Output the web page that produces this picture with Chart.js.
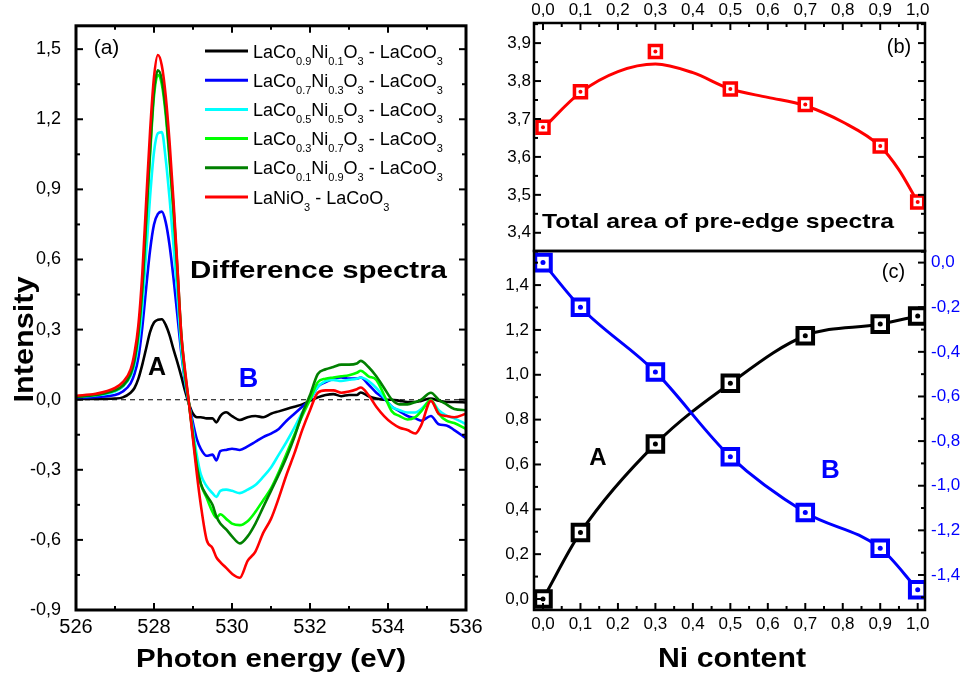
<!DOCTYPE html>
<html><head><meta charset="utf-8">
<script src="https://cdn.jsdelivr.net/npm/chart.js@4.4.1/dist/chart.umd.min.js"></script>
<style>
html,body{margin:0;padding:0;background:#fff;}
#wrap{position:relative;width:963px;height:680px;overflow:hidden;background:#fff;}
canvas{position:absolute;left:0;top:0;}
</style></head><body>
<div id="wrap">
<canvas id="ca" width="963" height="680"></canvas>
<canvas id="cb" width="963" height="680"></canvas>
<canvas id="cc" width="963" height="680"></canvas>
</div>
<script>
// ---------- Panel (a): difference spectra ----------
const energy = [526.0, 526.5, 527.0, 527.2, 527.4, 527.5, 527.6, 527.7, 527.8, 527.9,
  528.0, 528.1, 528.2, 528.3, 528.4, 528.5, 528.6, 528.7, 528.8, 528.9,
  529.0, 529.1, 529.2, 529.35, 529.5, 529.6, 529.7, 529.85, 530.0, 530.2,
  530.4, 530.6, 530.8, 531.0, 531.2, 531.4, 531.6, 531.8, 532.0, 532.2,
  532.4, 532.6, 532.8, 533.0, 533.2, 533.3, 533.5, 533.7, 533.9, 534.1,
  534.3, 534.5, 534.7, 534.85, 535.1, 535.3, 535.5, 535.7, 536.0];
const sNi01 = [0.003, 0.003, 0.005, 0.01, 0.03, 0.05, 0.09, 0.15, 0.22, 0.29,
  0.33, 0.342, 0.344, 0.32, 0.275, 0.215, 0.16, 0.1, 0.035, -0.02,
  -0.06, -0.075, -0.075, -0.08, -0.08, -0.097, -0.07, -0.054, -0.07, -0.087,
  -0.075, -0.07, -0.075, -0.06, -0.05, -0.04, -0.03, -0.02, -0.005, 0.01,
  0.02, 0.024, 0.015, 0.02, 0.02, 0.031, 0.015, 0.005, 0.0, 0.0,
  -0.005, -0.01, -0.01, -0.005, 0.005, -0.005, -0.01, -0.01, -0.012];
const sNi03 = [0.008, 0.012, 0.02, 0.035, 0.07, 0.11, 0.18, 0.31, 0.48, 0.64,
  0.75, 0.795, 0.805, 0.76, 0.66, 0.52, 0.36, 0.2, 0.07, -0.02,
  -0.1, -0.17, -0.21, -0.24, -0.235, -0.26, -0.22, -0.215, -0.21, -0.215,
  -0.2, -0.18, -0.16, -0.145, -0.125, -0.09, -0.06, -0.03, 0.0, 0.055,
  0.075, 0.09, 0.095, 0.09, 0.09, 0.095, 0.065, 0.03, 0.005, -0.03,
  -0.05, -0.07, -0.08, -0.09, -0.07, -0.105, -0.11, -0.13, -0.165];
const sNi05 = [0.012, 0.018, 0.035, 0.055, 0.1, 0.15, 0.24, 0.4, 0.63, 0.87,
  1.06, 1.14, 1.145, 1.03, 0.86, 0.66, 0.45, 0.22, 0.08, -0.02,
  -0.13, -0.24, -0.32, -0.37, -0.40, -0.416, -0.39, -0.385, -0.39, -0.40,
  -0.385, -0.365, -0.33, -0.29, -0.235, -0.18, -0.12, -0.055, 0.0, 0.055,
  0.08, 0.085, 0.08, 0.085, 0.09, 0.095, 0.08, 0.05, 0.01, -0.03,
  -0.045, -0.055, -0.055, -0.04, -0.005, -0.045, -0.068, -0.08, -0.105];
const sNi07 = [0.014, 0.02, 0.04, 0.06, 0.11, 0.17, 0.28, 0.47, 0.76, 1.05,
  1.30, 1.39, 1.35, 1.22, 1.02, 0.80, 0.54, 0.27, 0.1, -0.02,
  -0.15, -0.28, -0.36, -0.42, -0.48, -0.505, -0.49, -0.51, -0.53, -0.537,
  -0.52, -0.48, -0.43, -0.38, -0.31, -0.23, -0.15, -0.07, 0.0, 0.075,
  0.09, 0.095, 0.1, 0.105, 0.115, 0.124, 0.1, 0.085, 0.02, -0.05,
  -0.07, -0.085, -0.075, -0.05, 0.0, -0.06, -0.09, -0.1, -0.125];
const sNi09 = [0.012, 0.02, 0.04, 0.06, 0.11, 0.17, 0.29, 0.48, 0.78, 1.07,
  1.32, 1.41, 1.37, 1.24, 1.04, 0.82, 0.56, 0.28, 0.11, -0.02,
  -0.16, -0.29, -0.36, -0.41, -0.45, -0.50, -0.53, -0.555, -0.585, -0.615,
  -0.585, -0.53, -0.46, -0.39, -0.32, -0.245, -0.16, -0.06, 0.02, 0.11,
  0.13, 0.14, 0.15, 0.15, 0.155, 0.166, 0.14, 0.1, 0.05, 0.0,
  -0.02, -0.02, -0.01, 0.0, 0.03, 0.0, -0.02, -0.04, -0.045];
const sNi10 = [0.017, 0.025, 0.05, 0.075, 0.13, 0.2, 0.32, 0.54, 0.85, 1.15,
  1.38, 1.475, 1.43, 1.3, 1.1, 0.85, 0.57, 0.28, 0.12, -0.02,
  -0.17, -0.32, -0.45, -0.6, -0.635, -0.675, -0.695, -0.72, -0.745, -0.762,
  -0.69, -0.65, -0.57, -0.51, -0.42, -0.32, -0.23, -0.13, -0.045, 0.03,
  0.04, 0.04, 0.03, 0.035, 0.045, 0.052, 0.02, -0.03, -0.07, -0.1,
  -0.12, -0.13, -0.145, -0.11, -0.005, -0.06, -0.07, -0.075, -0.06];
const seriesNames = [
  'LaCo_{0.9}Ni_{0.1}O_{3} - LaCoO_{3}',
  'LaCo_{0.7}Ni_{0.3}O_{3} - LaCoO_{3}',
  'LaCo_{0.5}Ni_{0.5}O_{3} - LaCoO_{3}',
  'LaCo_{0.3}Ni_{0.7}O_{3} - LaCoO_{3}',
  'LaCo_{0.1}Ni_{0.9}O_{3} - LaCoO_{3}',
  'LaNiO_{3} - LaCoO_{3}'];
const seriesColors = ['#000000', '#0000ff', '#00ffff', '#00ff00', '#008000', '#ff0000'];
const zeroLevel = [0, 0];
const energyTicks = [526, 528, 530, 532, 534, 536];
const intensityTicks = [-0.9, -0.6, -0.3, 0.0, 0.3, 0.6, 0.9, 1.2, 1.5];

// ---------- Panels (b) and (c) ----------
const niContent = [0.0, 0.1, 0.3, 0.5, 0.7, 0.9, 1.0];
const totalArea = [3.678, 3.772, 3.878, 3.779, 3.738, 3.629, 3.481];
const areaFitX = [0.0, 0.1, 0.2, 0.3, 0.4, 0.5, 0.6, 0.7, 0.8, 0.9, 0.95, 1.0];
const areaFitY = [3.675, 3.770, 3.825, 3.845, 3.822, 3.779, 3.757, 3.735, 3.692, 3.628, 3.566, 3.481];
const peakA = [0.0, 0.297, 0.691, 0.962, 1.174, 1.226, 1.262];
const peakB = [0.0, -0.20, -0.49, -0.87, -1.12, -1.28, -1.466];
const niTicks = [0.0, 0.1, 0.2, 0.3, 0.4, 0.5, 0.6, 0.7, 0.8, 0.9, 1.0];
const areaTicks = [3.4, 3.5, 3.6, 3.7, 3.8, 3.9];
const peakATicks = [0.0, 0.2, 0.4, 0.6, 0.8, 1.0, 1.2, 1.4];
const peakBTicks = [0.0, -0.2, -0.4, -0.6, -0.8, -1.0, -1.2, -1.4];

// ---------- helpers ----------
const FONT = "'Liberation Sans', Arial, Helvetica, sans-serif";
const BLUE = '#0000ff';
const fmt = v => { let r = Math.round(v * 10) / 10; if (Math.abs(r) < 1e-9) r = 0; return r.toFixed(1).replace('.', ','); };
const pts = (xs, ys) => xs.map((x, i) => ({ x: x, y: ys[i] }));
const minorOf = t => { const st = t[1] - t[0]; const o = []; for (let i = -1; i < t.length; i++) o.push(t[0] + (i + 0.5) * st); return o; };
const setTicks = arr => (s => { s.ticks = arr.map(v => ({ value: v })); });

function framePlugin(id, frameW, sides) {
  return { id: id, afterDraw(chart) {
    const ctx = chart.ctx, a = chart.chartArea;
    ctx.save();
    ctx.strokeStyle = '#000';
    ctx.lineWidth = 2;
    sides.forEach(sd => {
      const sc = chart.scales[sd.scale];
      const one = (v, len) => {
        const p = sc.getPixelForValue(v);
        ctx.beginPath();
        if (sd.side === 'bottom') { if (p < a.left - 1 || p > a.right + 1) return; ctx.moveTo(p, a.bottom); ctx.lineTo(p, a.bottom - len); }
        else if (sd.side === 'top') { if (p < a.left - 1 || p > a.right + 1) return; ctx.moveTo(p, a.top); ctx.lineTo(p, a.top + len); }
        else if (sd.side === 'left') { if (p < a.top - 1 || p > a.bottom + 1) return; ctx.moveTo(a.left, p); ctx.lineTo(a.left + len, p); }
        else { if (p < a.top - 1 || p > a.bottom + 1) return; ctx.moveTo(a.right, p); ctx.lineTo(a.right - len, p); }
        ctx.stroke();
      };
      sd.major.forEach(v => one(v, 7));
      minorOf(sd.major).forEach(v => one(v, 4));
    });
    ctx.lineWidth = frameW;
    ctx.strokeRect(a.left, a.top, a.right - a.left, a.bottom - a.top);
    ctx.restore();
  }};
}

function drawText(ctx, o) {
  ctx.save();
  ctx.font = o.font + ' ' + FONT;
  ctx.fillStyle = o.color || '#000';
  ctx.textAlign = 'center';
  ctx.textBaseline = 'alphabetic';
  ctx.translate(o.x, o.y);
  if (o.rot) ctx.rotate(o.rot);
  if (o.w) { const m = ctx.measureText(o.t).width; ctx.scale(o.w / m, 1); }
  ctx.fillText(o.t, 0, 0);
  ctx.restore();
}

function drawRich(ctx, str, x, y) {
  const parts = str.split(/(_\{[^}]*\})/).filter(s => s.length);
  let cx = x;
  ctx.textAlign = 'left'; ctx.textBaseline = 'alphabetic'; ctx.fillStyle = '#000';
  parts.forEach(p => {
    if (p.startsWith('_{')) { const t = p.slice(2, -1); ctx.font = '11px ' + FONT; ctx.fillText(t, cx, y + 7); cx += ctx.measureText(t).width; }
    else { ctx.font = '18px ' + FONT; ctx.fillText(p, cx, y); cx += ctx.measureText(p).width; }
  });
}

const textPlugin = (id, texts, extra) => ({ id: id, afterDraw(chart) {
  const ctx = chart.ctx; texts.forEach(o => drawText(ctx, o)); if (extra) extra(ctx);
}});

const baseOpts = () => ({ responsive: false, animation: false, devicePixelRatio: 1, events: [],
  plugins: { legend: { display: false }, tooltip: { enabled: false }, title: { display: false } } });
const axisCommon = (size, color, pad) => ({ grid: { display: false, drawTicks: false }, border: { display: false },
  ticks: { autoSkip: false, maxRotation: 0, padding: pad, color: color || '#000', font: { family: FONT, size: size } } });

// ---------- Chart (a) ----------
const specData = [sNi01, sNi03, sNi05, sNi07, sNi09, sNi10];
const dsA = [{ label: 'zero', data: pts([energyTicks[0], energyTicks[energyTicks.length - 1]], zeroLevel),
  borderColor: '#000', borderWidth: 1.1, borderDash: [5, 4], pointRadius: 0, order: 10 }];
specData.forEach((ys, i) => dsA.push({ label: seriesNames[i], data: pts(energy, ys), borderColor: seriesColors[i],
  backgroundColor: seriesColors[i], borderWidth: 2.6, pointRadius: 0, cubicInterpolationMode: 'monotone', order: 7 - i }));

const optA = baseOpts();
optA.layout = { padding: { left: 16, top: 23, right: 497, bottom: 30 } };
optA.scales = {
  x: Object.assign(axisCommon(20, '#000', 5), { type: 'linear', position: 'bottom', min: 526, max: 536,
    afterBuildTicks: setTicks(energyTicks), afterFit: s => { s.height = 40; } }),
  y: Object.assign(axisCommon(18, '#000', 15), { type: 'linear', position: 'left', min: -0.9, max: 1.6,
    afterBuildTicks: setTicks(intensityTicks), afterFit: s => { s.width = 60; } })
};
optA.scales.x.ticks.callback = v => String(v);
optA.scales.y.ticks.callback = v => fmt(v);

new Chart(document.getElementById('ca'), {
  type: 'line', data: { datasets: dsA }, options: optA,
  plugins: [
    framePlugin('frameA', 3, [
      { scale: 'x', side: 'bottom', major: energyTicks }, { scale: 'x', side: 'top', major: energyTicks },
      { scale: 'y', side: 'left', major: intensityTicks }, { scale: 'y', side: 'right', major: intensityTicks }]),
    textPlugin('textA', [
      { t: '(a)', x: 106.5, y: 54, font: '21px' },
      { t: 'Difference spectra', x: 318.5, y: 278, font: 'bold 24px', w: 257 },
      { t: 'A', x: 157, y: 375, font: 'bold 25px' },
      { t: 'B', x: 248.5, y: 387, font: 'bold 27px', color: BLUE },
      { t: 'Photon energy (eV)', x: 271, y: 667, font: 'bold 26px', w: 270 },
      { t: 'Intensity', x: 33, y: 339.5, font: 'bold 28px', w: 126, rot: -Math.PI / 2 }
    ], ctx => {
      ctx.save();
      seriesNames.forEach((nm, i) => {
        const y = 51 + i * 29.2;
        ctx.strokeStyle = seriesColors[i]; ctx.lineWidth = 3;
        ctx.beginPath(); ctx.moveTo(205, y); ctx.lineTo(248, y); ctx.stroke();
        drawRich(ctx, nm, 253, y + 6.5);
      });
      ctx.restore();
    })
  ]
});

// ---------- Chart (b) ----------
const optB = baseOpts();
optB.layout = { padding: { left: 490, top: 0, right: 38, bottom: 429 } };
optB.scales = {
  x: Object.assign(axisCommon(17, '#000', 2), { type: 'linear', position: 'top', min: -0.024, max: 1.0195,
    afterBuildTicks: setTicks(niTicks), afterFit: s => { s.height = 23; } }),
  y: Object.assign(axisCommon(17, '#000', 3), { type: 'linear', position: 'left', min: 3.352, max: 3.953,
    afterBuildTicks: setTicks(areaTicks), afterFit: s => { s.width = 44; } })
};
optB.scales.x.ticks.callback = v => fmt(v);
optB.scales.y.ticks.callback = v => fmt(v);

new Chart(document.getElementById('cb'), {
  type: 'line',
  data: { datasets: [
    { label: 'fit', data: pts(areaFitX, areaFitY), borderColor: '#ff0000', borderWidth: 3, pointRadius: 0,
      cubicInterpolationMode: 'monotone', order: 3 },
    { label: 'Total area', data: pts(niContent, totalArea), showLine: false, pointStyle: 'rect', pointRadius: 8.5,
      pointBorderWidth: 3.5, pointBorderColor: '#ff0000', pointBackgroundColor: '#ffffff', clip: 0, order: 2 },
    { label: 'dots', data: pts(niContent, totalArea), showLine: false, pointStyle: 'circle', pointRadius: 2,
      pointBorderWidth: 0, pointBackgroundColor: '#ff0000', clip: 0, order: 1 }
  ]},
  options: optB,
  plugins: [framePlugin('frameB', 2.5, [
    { scale: 'x', side: 'top', major: niTicks },
    { scale: 'y', side: 'left', major: areaTicks }, { scale: 'y', side: 'right', major: areaTicks }])]
});

// ---------- Chart (c) ----------
const optC = baseOpts();
optC.layout = { padding: { left: 490, top: 251, right: 0, bottom: 30 } };
optC.scales = {
  x: Object.assign(axisCommon(17, '#000', 4), { type: 'linear', position: 'bottom', min: -0.024, max: 1.0195,
    afterBuildTicks: setTicks(niTicks), afterFit: s => { s.height = 40; } }),
  y: Object.assign(axisCommon(17, '#000', 5), { type: 'linear', position: 'left', min: -0.049, max: 1.552,
    afterBuildTicks: setTicks(peakATicks), afterFit: s => { s.width = 44; } }),
  y1: Object.assign(axisCommon(17, BLUE, 6), { type: 'linear', position: 'right', min: -1.557, max: 0.052,
    afterBuildTicks: setTicks(peakBTicks), afterFit: s => { s.width = 38; } })
};
optC.scales.x.ticks.callback = v => fmt(v);
optC.scales.y.ticks.callback = v => fmt(v);
optC.scales.y1.ticks.callback = v => fmt(v);

const markerDs = (label, ys, color, axis, order) => ({ label: label, data: pts(niContent, ys), yAxisID: axis,
  borderColor: color, borderWidth: 3, cubicInterpolationMode: 'monotone', pointStyle: 'rect', pointRadius: 11,
  pointBorderWidth: 4, pointBorderColor: color, pointBackgroundColor: '#ffffff', clip: 0, order: order });
const dotDs = (ys, color, axis) => ({ label: 'dot', data: pts(niContent, ys), yAxisID: axis, showLine: false,
  pointStyle: 'circle', pointRadius: 2.5, pointBorderWidth: 0, pointBackgroundColor: color, clip: 0, order: 0 });

new Chart(document.getElementById('cc'), {
  type: 'line',
  data: { datasets: [
    markerDs('Peak A', peakA, '#000000', 'y', 2),
    markerDs('Peak B', peakB, BLUE, 'y1', 1),
    dotDs(peakA, '#000000', 'y'),
    dotDs(peakB, BLUE, 'y1')
  ]},
  options: optC,
  plugins: [
    framePlugin('frameC', 2.5, [
      { scale: 'x', side: 'bottom', major: niTicks },
      { scale: 'y', side: 'left', major: peakATicks }, { scale: 'y1', side: 'right', major: peakBTicks }]),
    textPlugin('textC', [
      { t: '(b)', x: 899, y: 53, font: '20px' },
      { t: '(c)', x: 893.5, y: 278, font: '20px' },
      { t: 'Total area of pre-edge spectra', x: 718, y: 228, font: 'bold 21px', w: 352 },
      { t: 'A', x: 598, y: 465, font: 'bold 24px' },
      { t: 'B', x: 830.5, y: 478, font: 'bold 26px', color: BLUE },
      { t: 'Ni content', x: 732, y: 667, font: 'bold 28px', w: 148 }
    ])
  ]
});
</script>
</body></html>
